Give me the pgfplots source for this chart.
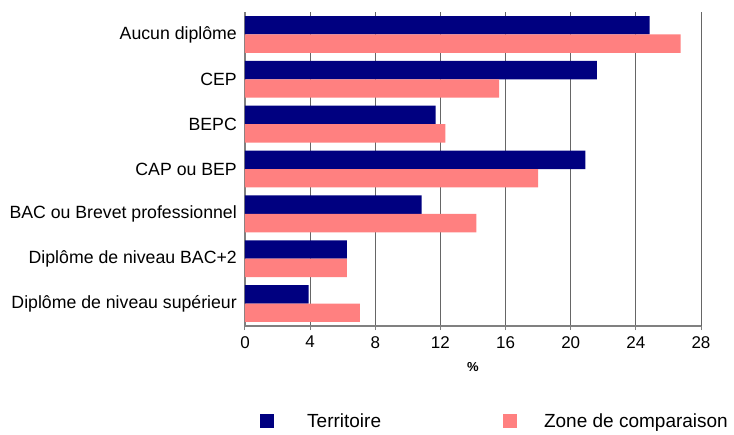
\documentclass[border=0pt]{standalone}
\usepackage{fontspec}
\setmainfont{Liberation Sans}
\usepackage{pgfplots}
\pgfplotsset{compat=1.18}
\definecolor{terr}{HTML}{000080}
\definecolor{zone}{HTML}{FF8080}
\begin{document}
\begin{tikzpicture}
\begin{axis}[
  at={(0,0)}, anchor=south west,
  scale only axis, width=456bp, height=314bp,
  xbar, bar width=18.4bp,
  xmin=0, xmax=28, xtick={0,4,...,28},
  ymin=-0.5, ymax=6.5,
  ytick={0,...,6},
  yticklabels={Diplôme de niveau supérieur,Diplôme de niveau BAC+2,BAC ou Brevet professionnel,CAP ou BEP,BEPC,CEP,Aucun diplôme},
  axis lines=left,
  axis line style={-, draw=gray, line width=1.5bp},
  xmajorgrids,
  grid style={draw=black!60, line width=0.9bp},
  x tick style={draw=gray, line width=1bp},
  major tick length=4bp,
  tick align=outside,
  y tick style={draw=none},
  /pgf/number format/assume math mode=true,
  xticklabel style={font=\fontsize{17bp}{20bp}\selectfont, inner sep=2bp, yshift=-4bp},
  yticklabel style={font=\fontsize{17.7bp}{20bp}\selectfont, inner sep=0bp, xshift=-4bp},
  xlabel={\bfseries\%},
  xlabel style={font=\fontsize{13bp}{15bp}\selectfont, yshift=-9bp},
  legend columns=2,
  legend style={at={(0.0329,-0.3025)}, anchor=west, draw=none, fill=none,
    inner sep=0pt, font=\fontsize{19bp}{22bp}\selectfont,
    /tikz/every even column/.append style={column sep=120bp}},
]
\addplot[fill=terr, draw=none, bar shift=9.2bp,
  legend image code/.code={\fill[terr] (0bp,-6.8bp) rectangle (13.6bp,6.8bp); \path (45bp,0);}]
  coordinates {(3.9,0) (6.25,1) (10.85,2) (20.9,3) (11.7,4) (21.6,5) (24.85,6)};
\addlegendentry{Territoire}
\addplot[fill=zone, draw=none, bar shift=-9.2bp,
  legend image code/.code={\fill[zone] (0bp,-6.8bp) rectangle (13.6bp,6.8bp); \path (39bp,0);}]
  coordinates {(7.05,0) (6.25,1) (14.2,2) (18.0,3) (12.3,4) (15.6,5) (26.75,6)};
\addlegendentry{Zone de comparaison}
\end{axis}
\pgfresetboundingbox
\path (-245bp,-109bp) rectangle (489bp,326bp);
\end{tikzpicture}
\end{document}
